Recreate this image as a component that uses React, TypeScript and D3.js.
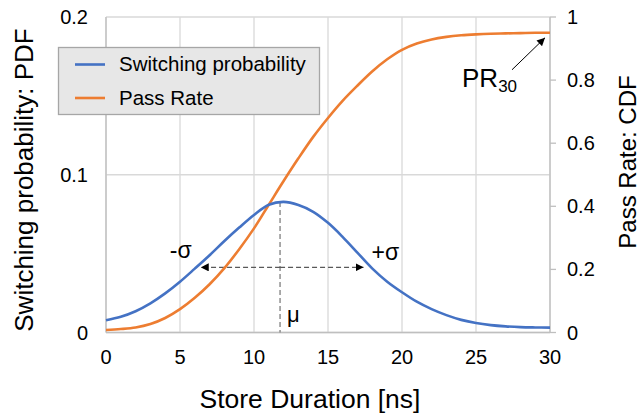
import React from "react"
import * as d3 from "d3"

/** Store duration samples [ns] */
const storeNs = [0, 1, 2, 3, 4, 5, 6, 7, 8, 9, 10, 11, 12, 13, 14, 15, 16, 17, 18, 19, 20, 21, 22, 23, 24, 25, 26, 27, 28, 29, 30]

/** Switching probability (PDF, left axis) */
const switchingProb = [
	0.0078, 0.0100, 0.0135, 0.0185, 0.0248, 0.0322, 0.0405, 0.0490, 0.0580, 0.0665, 0.0745,
	0.0810, 0.0828, 0.0808, 0.0765, 0.0695, 0.0605, 0.0505, 0.0405, 0.0322, 0.0255,
	0.0195, 0.0148, 0.0110, 0.0080, 0.0060, 0.0047, 0.0039, 0.0034, 0.0032, 0.0031,
]

/** Pass rate (CDF, right axis) */
const passRate = [
	0.008, 0.011, 0.016, 0.027, 0.046, 0.074, 0.110, 0.153, 0.204, 0.264, 0.330,
	0.405, 0.480, 0.552, 0.620, 0.680, 0.735, 0.783, 0.828, 0.866, 0.896,
	0.916, 0.929, 0.937, 0.942, 0.945, 0.947, 0.948, 0.949, 0.950, 0.950,
]

const seriesNames = ["Switching probability", "Pass Rate"]
const seriesColors = ["#4472c4", "#ed7d31"]

const xTicks = [0, 5, 10, 15, 20, 25, 30]
const pdfTicks = [0, 0.1, 0.2]
const pdfTickLabels = ["0", "0.1", "0.2"]
const cdfTicks = [0, 0.2, 0.4, 0.6, 0.8, 1]
const cdfTickLabels = ["0", "0.2", "0.4", "0.6", "0.8", "1"]

/** Annotation values */
const muNs = 11.76
const peakProb = 0.0828
const halfMaxProb = 0.0413
const minusSigmaNs = 6.4
const plusSigmaNs = 17.4

export default function App() {
	const width = 640
	const height = 416
	const left = 106
	const right = 550
	const top = 17
	const bottom = 332.5
	const font = "'Liberation Sans', Arial, sans-serif"

	const x = d3.scaleLinear().domain([0, 30]).range([left, right])
	const yPdf = d3.scaleLinear().domain([0, 0.2]).range([bottom, top])
	const yCdf = d3.scaleLinear().domain([0, 1]).range([bottom, top])

	const pdfLine = d3.line<number>()
		.x((d, i) => x(storeNs[i]))
		.y(d => yPdf(d))
		.curve(d3.curveCatmullRom.alpha(0.5))
	const cdfLine = d3.line<number>()
		.x((d, i) => x(storeNs[i]))
		.y(d => yCdf(d))
		.curve(d3.curveCatmullRom.alpha(0.5))

	const gridColor = "#d9d9d9"
	const axisColor = "#bfbfbf"

	const prX = x(30)
	const prY = yCdf(passRate[passRate.length - 1])

	return (
		<svg width={width} height={height} style={{ position: "absolute", left: 0, top: 0, background: "#fff" }} fontFamily={font}>
			<defs>
				<marker id="arr" viewBox="0 0 10 10" refX={10} refY={5} markerWidth={8} markerHeight={8} orient="auto-start-reverse" markerUnits="userSpaceOnUse">
					<path d="M0,0 L10,5 L0,10 Z" fill="#000" />
				</marker>
			</defs>

			{/* grid */}
			{xTicks.map(t => (
				<line key={"gx" + t} x1={x(t)} x2={x(t)} y1={top} y2={bottom} stroke={gridColor} strokeWidth={1.3} />
			))}
			{pdfTicks.map(t => (
				<line key={"gy" + t} x1={left} x2={right} y1={yPdf(t)} y2={yPdf(t)} stroke={gridColor} strokeWidth={1.3} />
			))}

			{/* axes */}
			<line x1={left} x2={left} y1={top} y2={bottom} stroke={axisColor} strokeWidth={1.3} />
			<line x1={left} x2={right} y1={bottom} y2={bottom} stroke={axisColor} strokeWidth={1.3} />
			<line x1={right} x2={right} y1={top} y2={bottom} stroke={axisColor} strokeWidth={1.3} />
			{cdfTicks.map(t => (
				<line key={"rt" + t} x1={right} x2={right + 6} y1={yCdf(t)} y2={yCdf(t)} stroke={axisColor} strokeWidth={1.3} />
			))}

			{/* tick labels */}
			<g fontSize={20} fill="#000">
				{xTicks.map(t => (
					<text key={"xl" + t} x={x(t)} y={364} textAnchor="middle">{t}</text>
				))}
				{pdfTicks.map((t, i) => (
					<text key={"ll" + t} x={88} y={yPdf(t)} dy="0.35em" textAnchor="end">{pdfTickLabels[i]}</text>
				))}
				{cdfTicks.map((t, i) => (
					<text key={"rl" + t} x={567} y={yCdf(t)} dy="0.35em" textAnchor="start">{cdfTickLabels[i]}</text>
				))}
			</g>

			{/* axis titles */}
			<text x={310} y={408} fontSize={26.5} textAnchor="middle">Store Duration [ns]</text>
			<text transform={`translate(33, 180) rotate(-90)`} fontSize={26} textAnchor="middle">Switching probability: PDF</text>
			<text transform={`translate(636, 162) rotate(-90)`} fontSize={24} textAnchor="middle">Pass Rate: CDF</text>

			{/* mu and sigma markers */}
			<line x1={x(muNs)} x2={x(muNs)} y1={yPdf(peakProb)} y2={bottom} stroke="#7f7f7f" strokeWidth={1.3} strokeDasharray="5,3" />
			<line x1={x(muNs)} x2={x(minusSigmaNs)} y1={yPdf(halfMaxProb)} y2={yPdf(halfMaxProb)} stroke="#595959" strokeWidth={1.3} strokeDasharray="5,3" markerEnd="url(#arr)" />
			<line x1={x(muNs)} x2={x(plusSigmaNs)} y1={yPdf(halfMaxProb)} y2={yPdf(halfMaxProb)} stroke="#595959" strokeWidth={1.3} strokeDasharray="5,3" markerEnd="url(#arr)" />

			{/* series */}
			<path d={cdfLine(passRate) || ""} fill="none" stroke={seriesColors[1]} strokeWidth={2.6} />
			<path d={pdfLine(switchingProb) || ""} fill="none" stroke={seriesColors[0]} strokeWidth={2.6} />

			<g fontSize={23} fill="#000">
				<text x={x(minusSigmaNs) - 31} y={258}>-σ</text>
				<text x={x(plusSigmaNs) + 8} y={260}>+σ</text>
				<text x={x(muNs) + 7} y={322} fontSize={22}>μ</text>
			</g>

			{/* PR30 annotation */}
			<line x1={prX - 38} x2={prX - 5} y1={prY + 37} y2={prY + 5} stroke="#000" strokeWidth={1} markerEnd="url(#arr)" />
			<text x={prX - 88} y={87} fontSize={26}>PR<tspan fontSize={17} dy={5}>30</tspan></text>

			{/* legend */}
			<rect x={58.5} y={47.5} width={261} height={67} fill="#e7e7e7" stroke="#a6a6a6" strokeWidth={1.3} />
			{seriesNames.map((name, i) => (
				<g key={name}>
					<line x1={75} x2={105} y1={64.5 + i * 33.5} y2={64.5 + i * 33.5} stroke={seriesColors[i]} strokeWidth={2.6} />
					<text x={119} y={71 + i * 33.5} fontSize={20.5}>{name}</text>
				</g>
			))}
		</svg>
	)
}
